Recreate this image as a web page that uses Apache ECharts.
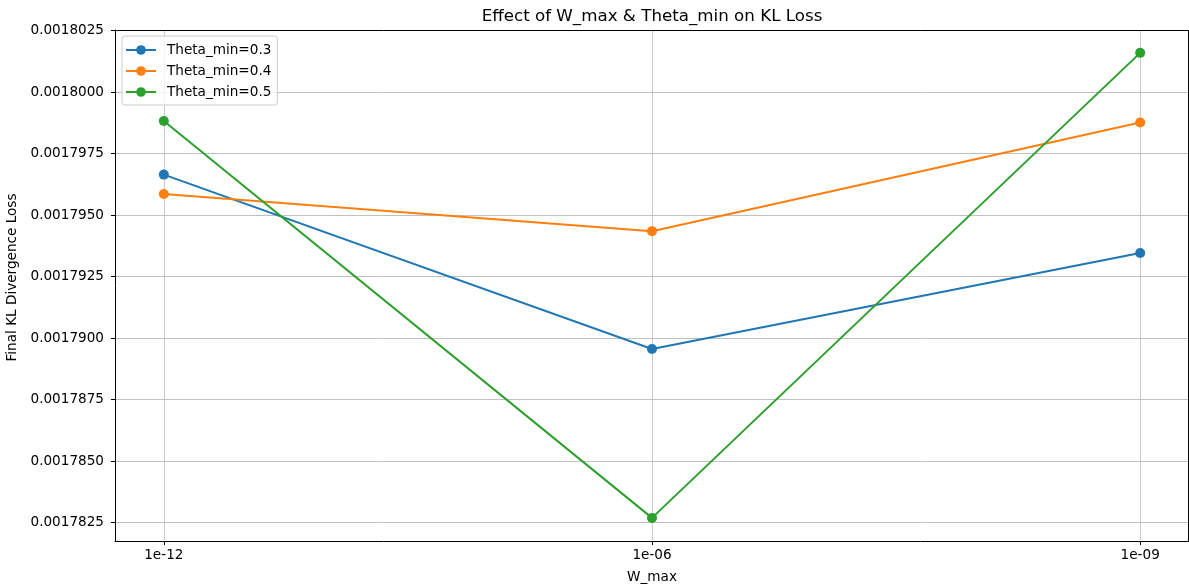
<!DOCTYPE html>
<html>
<head>
<meta charset="utf-8">
<script src="https://cdn.jsdelivr.net/npm/echarts@6/dist/echarts.min.js"></script>
<style>
  html, body { margin: 0; padding: 0; background: #fff; }
  #chart { width: 1189px; height: 588px; }
</style>
</head>
<body>
<div id="chart"></div>
<script>
// W_max settings on the x axis
const wMaxLabels = ['1e-12', '1e-06', '1e-09'];

// Final KL divergence loss per Theta_min setting
const theta03 = [0.00179665, 0.00178956, 0.00179346];
const theta04 = [0.00179586, 0.00179435, 0.00179877];
const theta05 = [0.00179883, 0.00178269, 0.00180160];

const seriesNames = ['Theta_min=0.3', 'Theta_min=0.4', 'Theta_min=0.5'];
const seriesColors = ['#1f77b4', '#ff7f0e', '#2ca02c'];

// y tick values
const yTicks = [0.0017825, 0.0017850, 0.0017875, 0.0017900, 0.0017925,
                0.0017950, 0.0017975, 0.0018000, 0.0018025];
const xTicks = [0, 1, 2];

const FONT = 'DejaVu Sans';
const chart = echarts.init(document.getElementById('chart'), null, { renderer: 'canvas' });

function pairs(vals) {
  return vals.map((v, i) => [i, v]);
}

const seriesData = [theta03, theta04, theta05];

chart.setOption({
  animation: false,
  backgroundColor: '#ffffff',
  textStyle: { fontFamily: FONT },
  title: {
    text: 'Effect of W_max & Theta_min on KL Loss',
    left: 647,
    textAlign: 'center',
    top: 3,
    textStyle: { fontFamily: FONT, fontSize: 16.7, fontWeight: 'normal', color: '#000' }
  },
  legend: {
    left: 122,
    top: 36,
    orient: 'vertical',
    itemWidth: 30,
    itemHeight: 12,
    itemGap: 7,
    padding: [7, 6, 6, 3],
    backgroundColor: 'rgba(255,255,255,0.8)',
    borderColor: '#cccccc',
    borderWidth: 1,
    borderRadius: 3,
    textStyle: { fontFamily: FONT, fontSize: 13.6, color: '#000', padding: [0, 0, 0, 6] },
    data: seriesNames
  },
  grid: { left: 115, right: 0, top: 30, bottom: 47, containLabel: false, outerBoundsMode: 'none' },
  xAxis: {
    type: 'value',
    min: -0.1,
    max: 2.1,
    name: 'W_max',
    nameLocation: 'middle',
    nameGap: 29,
    nameTextStyle: { fontFamily: FONT, fontSize: 13.6, color: '#000' },
    axisLine: { show: true, onZero: false, lineStyle: { color: '#000', width: 1 } },
    axisTick: { show: true, length: 4, inside: false, customValues: xTicks, lineStyle: { color: '#000' } },
    axisLabel: {
      customValues: xTicks,
      margin: 7,
      fontFamily: FONT, fontSize: 13.6, color: '#000',
      formatter: v => wMaxLabels[Math.round(v)]
    },
    splitLine: { show: true, lineStyle: { color: '#c8c8c8', width: 1 } }
  },
  yAxis: {
    type: 'value',
    min: 0.00178175,
    max: 0.00180253,
    scale: true,
    name: 'Final KL Divergence Loss',
    nameLocation: 'middle',
    nameGap: 85,
    nameTextStyle: { fontFamily: FONT, fontSize: 13.6, color: '#000', padding: [0, 0, 0, 16] },
    axisLine: { show: true, onZero: false, lineStyle: { color: '#000', width: 1 } },
    axisTick: { show: true, length: 4, inside: false, customValues: yTicks, lineStyle: { color: '#000' } },
    axisLabel: {
      customValues: yTicks,
      margin: 11,
      fontFamily: FONT, fontSize: 13.6, color: '#000',
      formatter: v => v.toFixed(7)
    },
    splitLine: { show: true, lineStyle: { color: '#c0c0c0', width: 1 } }
  },
  series: seriesData.map((vals, k) => ({
    name: seriesNames[k],
    type: 'line',
    data: pairs(vals),
    symbol: 'circle',
    symbolSize: 10,
    showAllSymbol: true,
    color: seriesColors[k],
    lineStyle: { width: 2, color: seriesColors[k] },
    itemStyle: { color: seriesColors[k] },
    z: 3 + k
  }))
});

// frame lines along the top and right edges of the plot
chart.setOption({
  graphic: [
    {
      type: 'polyline',
      shape: { points: [[115, 30.5], [1188.5, 30.5], [1188.5, 541]] },
      style: { fill: 'none', stroke: '#000', lineWidth: 1 },
      silent: true,
      z: 10
    }
  ]
});
</script>
</body>
</html>
